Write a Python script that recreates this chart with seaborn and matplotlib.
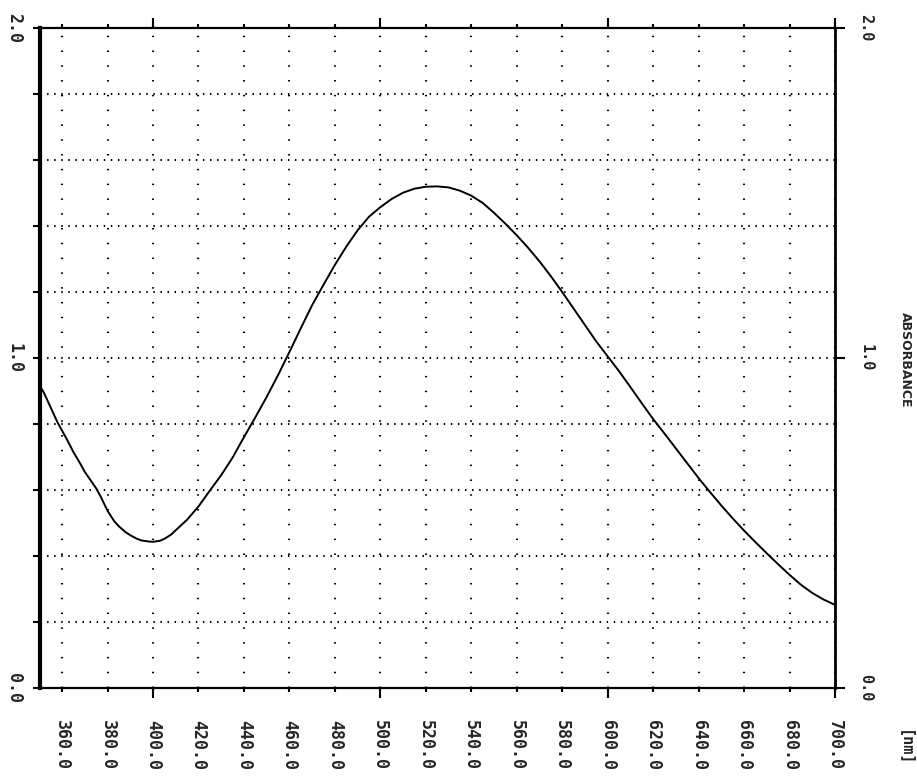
import matplotlib
matplotlib.use("Agg")
import matplotlib.pyplot as plt
import seaborn as sns
import pandas as pd

# ---- data ----
wavelength = [350.3, 352, 355, 358, 360, 362, 365, 368, 370, 373, 375, 377, 380, 383, 385, 388,
              390, 393, 395, 398, 400, 403, 405, 408, 410, 415, 420, 425, 430, 435, 440, 445,
              450, 455, 460, 465, 470, 475, 480, 485, 490, 495, 500, 505, 510, 515, 520, 525,
              530, 535, 540, 545, 550, 555, 560, 565, 570, 575, 580, 585, 590, 595, 600, 605,
              610, 615, 620, 625, 630, 635, 640, 645, 650, 655, 660, 665, 670, 675, 680, 685,
              690, 695, 700]
absorbance = [0.915, 0.895, 0.850, 0.805, 0.780, 0.755, 0.715, 0.680, 0.655, 0.625, 0.605, 0.580,
              0.537, 0.505, 0.490, 0.472, 0.463, 0.452, 0.447, 0.444, 0.443, 0.446, 0.452, 0.465,
              0.478, 0.510, 0.550, 0.598, 0.645, 0.698, 0.760, 0.820, 0.882, 0.948, 1.018, 1.090,
              1.160, 1.222, 1.282, 1.337, 1.387, 1.428, 1.457, 1.482, 1.501, 1.513, 1.519, 1.520,
              1.517, 1.507, 1.492, 1.470, 1.440, 1.407, 1.372, 1.334, 1.293, 1.248, 1.200, 1.150,
              1.100, 1.050, 1.005, 0.960, 0.912, 0.863, 0.815, 0.771, 0.726, 0.681, 0.636, 0.594,
              0.553, 0.514, 0.477, 0.442, 0.408, 0.375, 0.343, 0.313, 0.288, 0.268, 0.252]
x_ticks = [360, 380, 400, 420, 440, 460, 480, 500, 520, 540, 560, 580, 600, 620, 640, 660, 680, 700]
x_tick_labels = ["360.0", "380.0", "400.0", "420.0", "440.0", "460.0", "480.0", "500.0", "520.0",
                 "540.0", "560.0", "580.0", "600.0", "620.0", "640.0", "660.0", "680.0", "700.0"]
x_major_marks = [400, 500, 600, 700]
y_label_ticks = [0.0, 1.0, 2.0]
y_label_text = ["0.0", "1.0", "2.0"]
y_grid = [0.2, 0.4, 0.6, 0.8, 1.0, 1.2, 1.4, 1.6, 1.8]
y_label = "ABSORBANCE"
x_unit = "[nm]"

df = pd.DataFrame({"wavelength": wavelength, "absorbance": absorbance})

sns.set_style("white")
plt.rcParams['font.family'] = ['DejaVu Sans']

fig = plt.figure(figsize=(9.17, 7.77), dpi=100)
ax = fig.add_axes([40/917, 1-688/777, (835-40)/917, (688-28)/777])

# dotted grid
for yv in y_grid:
    ax.axhline(yv, color="black", lw=1.5, dashes=(0.7, 2.7), zorder=1)
for xv in x_ticks:
    ax.axvline(xv, color="black", lw=1.5, dashes=(0.7, 6.4), zorder=1)

sns.lineplot(data=df, x="wavelength", y="absorbance", color="black", lw=1.4,
             ax=ax, estimator=None, sort=False, zorder=3)

ax.set_xlim(350.3, 700)
ax.set_ylim(0, 2.0)
ax.set_xlabel("")
ax.set_ylabel("")

# spines
for s in ["top", "bottom"]:
    ax.spines[s].set_linewidth(1.6)
    ax.spines[s].set_color("black")
ax.spines["left"].set_linewidth(3.0)
ax.spines["left"].set_color("black")
ax.spines["right"].set_linewidth(2.0)
ax.spines["right"].set_color("black")

# x ticks
ax.set_xticks(x_ticks)
ax.set_xticklabels(x_tick_labels, rotation=270, fontsize=12, fontweight="bold",
                   family="DejaVu Sans Mono")
ax.set_xticks(x_major_marks, minor=True)
ax.xaxis.remove_overlapping_locs = False
ax.tick_params(axis="x", which="major", direction="out", length=3, width=1.5,
               top=True, bottom=True, pad=20, color="black")
ax.tick_params(axis="x", which="minor", direction="out", length=7, width=1.5,
               top=True, bottom=True, color="black")

# y ticks
ax.set_yticks(y_label_ticks)
ax.set_yticklabels(y_label_text, rotation=270, fontsize=12, fontweight="bold",
                   family="DejaVu Sans Mono", va="center")
ax.set_yticks(y_grid, minor=True)
ax.tick_params(axis="y", which="both", direction="out", length=5, width=1.5,
               left=True, right=True, color="black", pad=7)

# right side labels
ax2 = ax.twinx()
ax2.set_ylim(0, 2.0)
ax2.set_yticks(y_label_ticks)
ax2.set_yticklabels(y_label_text, rotation=270, fontsize=11, fontweight="bold",
                    family="DejaVu Sans Mono", va="center")
ax2.tick_params(axis="y", direction="out", length=7, width=1.5, pad=10, color="black")
for s in ax2.spines.values():
    s.set_visible(False)

fig.text(905/917, 1-360/777, y_label, rotation=270, fontsize=9, fontweight="bold",
         ha="center", va="center")
fig.text(905/917, 1-748/777, x_unit, rotation=270, fontsize=11, fontweight="bold",
         ha="center", va="center", family="DejaVu Sans Mono")

fig.savefig("out.png", dpi=100)
